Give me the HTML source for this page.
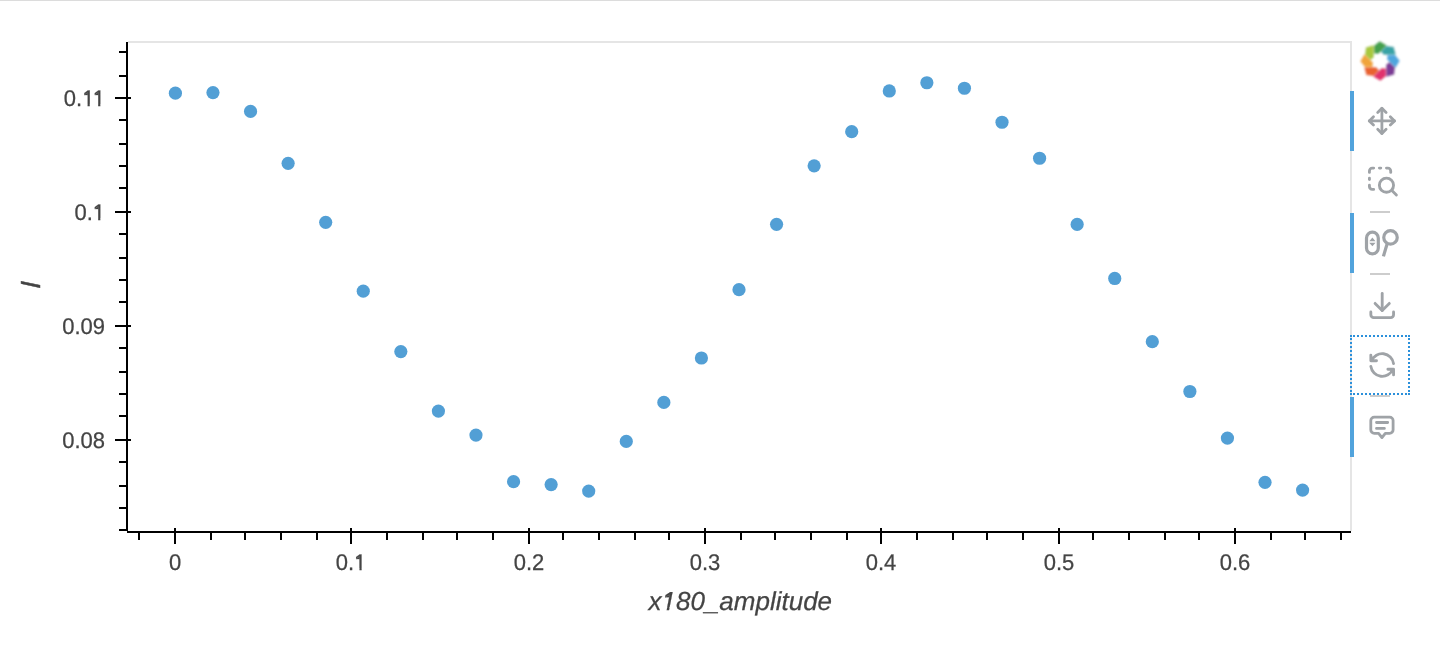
<!DOCTYPE html><html><head><meta charset="utf-8"><style>html,body{margin:0;padding:0;background:#fff;width:1440px;height:646px;overflow:hidden}svg{display:block}text{font-family:"Liberation Sans",sans-serif;text-rendering:geometricPrecision}</style></head><body>
<svg width="1440" height="646" viewBox="0 0 1440 646">
<defs><filter id="bl" x="-20%" y="-20%" width="140%" height="140%"><feGaussianBlur stdDeviation="0.8"/></filter></defs>
<rect x="0" y="0" width="1440" height="1" fill="#dcdcdc"/>
<rect x="128" y="41" width="1224" height="2" fill="#e5e5e5"/>
<rect x="1350" y="41" width="2" height="490" fill="#e5e5e5"/>
<rect x="126" y="42" width="2" height="489" fill="#000"/>
<rect x="127" y="531" width="1224" height="2" fill="#000"/>
<rect x="119" y="51" width="9" height="2" fill="#000"/>
<rect x="119" y="75" width="9" height="2" fill="#000"/>
<rect x="115" y="97" width="16" height="2" fill="#000"/>
<rect x="119" y="119" width="9" height="2" fill="#000"/>
<rect x="119" y="143" width="9" height="2" fill="#000"/>
<rect x="119" y="165" width="9" height="2" fill="#000"/>
<rect x="119" y="187" width="9" height="2" fill="#000"/>
<rect x="115" y="211" width="16" height="2" fill="#000"/>
<rect x="119" y="233" width="9" height="2" fill="#000"/>
<rect x="119" y="257" width="9" height="2" fill="#000"/>
<rect x="119" y="279" width="9" height="2" fill="#000"/>
<rect x="119" y="301" width="9" height="2" fill="#000"/>
<rect x="115" y="325" width="16" height="2" fill="#000"/>
<rect x="119" y="347" width="9" height="2" fill="#000"/>
<rect x="119" y="371" width="9" height="2" fill="#000"/>
<rect x="119" y="393" width="9" height="2" fill="#000"/>
<rect x="119" y="415" width="9" height="2" fill="#000"/>
<rect x="115" y="439" width="16" height="2" fill="#000"/>
<rect x="119" y="461" width="9" height="2" fill="#000"/>
<rect x="119" y="485" width="9" height="2" fill="#000"/>
<rect x="119" y="507" width="9" height="2" fill="#000"/>
<rect x="119" y="529" width="9" height="2" fill="#000"/>
<g style="opacity:0.999">
<rect x="138" y="531" width="2" height="9" fill="#000"/>
<rect x="174" y="528" width="2" height="16" fill="#000"/>
<rect x="210" y="531" width="2" height="9" fill="#000"/>
<rect x="244" y="531" width="2" height="9" fill="#000"/>
<rect x="280" y="531" width="2" height="9" fill="#000"/>
<rect x="316" y="531" width="2" height="9" fill="#000"/>
<rect x="350" y="528" width="2" height="16" fill="#000"/>
<rect x="386" y="531" width="2" height="9" fill="#000"/>
<rect x="422" y="531" width="2" height="9" fill="#000"/>
<rect x="456" y="531" width="2" height="9" fill="#000"/>
<rect x="492" y="531" width="2" height="9" fill="#000"/>
<rect x="528" y="528" width="2" height="16" fill="#000"/>
<rect x="562" y="531" width="2" height="9" fill="#000"/>
<rect x="598" y="531" width="2" height="9" fill="#000"/>
<rect x="634" y="531" width="2" height="9" fill="#000"/>
<rect x="668" y="531" width="2" height="9" fill="#000"/>
<rect x="704" y="528" width="2" height="16" fill="#000"/>
<rect x="740" y="531" width="2" height="9" fill="#000"/>
<rect x="774" y="531" width="2" height="9" fill="#000"/>
<rect x="810" y="531" width="2" height="9" fill="#000"/>
<rect x="846" y="531" width="2" height="9" fill="#000"/>
<rect x="880" y="528" width="2" height="16" fill="#000"/>
<rect x="916" y="531" width="2" height="9" fill="#000"/>
<rect x="952" y="531" width="2" height="9" fill="#000"/>
<rect x="986" y="531" width="2" height="9" fill="#000"/>
<rect x="1022" y="531" width="2" height="9" fill="#000"/>
<rect x="1058" y="528" width="2" height="16" fill="#000"/>
<rect x="1092" y="531" width="2" height="9" fill="#000"/>
<rect x="1128" y="531" width="2" height="9" fill="#000"/>
<rect x="1164" y="531" width="2" height="9" fill="#000"/>
<rect x="1198" y="531" width="2" height="9" fill="#000"/>
<rect x="1234" y="528" width="2" height="16" fill="#000"/>
<rect x="1270" y="531" width="2" height="9" fill="#000"/>
<rect x="1304" y="531" width="2" height="9" fill="#000"/>
<rect x="1340" y="531" width="2" height="9" fill="#000"/>
<defs><clipPath id="ft" clipPathUnits="userSpaceOnUse"><path clip-rule="evenodd" d="M0 0H1440V646H0ZM82.63 104.00H87.56V107.15H82.63ZM89.76 104.00H98.15V107.15H89.76ZM100.36 104.00H105.11V107.15H100.36ZM93.23 218.00H98.15V221.15H93.23ZM100.36 218.00H105.11V221.15H100.36ZM354.52 568.00H359.45V571.20H354.52ZM361.65 568.00H366.41V571.20H361.65ZM661.42 607.00L667.20 607.00L666.44 610.90L661.42 610.90ZM669.75 607.00L674.54 607.00L674.54 610.90L668.99 610.90Z"/></clipPath></defs>
<g clip-path="url(#ft)"><text transform="translate(105,106.25) scale(1,1.03)" text-anchor="end" font-size="22" fill="#444" stroke="#444" stroke-width="0.25">0.11</text><text transform="translate(105,220.25) scale(1,1.03)" text-anchor="end" font-size="22" fill="#444" stroke="#444" stroke-width="0.25">0.1</text><text transform="translate(105,334.25) scale(1,1.03)" text-anchor="end" font-size="22" fill="#444" stroke="#444" stroke-width="0.25">0.09</text><text transform="translate(105,448.25) scale(1,1.03)" text-anchor="end" font-size="22" fill="#444" stroke="#444" stroke-width="0.25">0.08</text><text transform="translate(175,570.3) scale(1,1.03)" text-anchor="middle" font-size="22" fill="#444" stroke="#444" stroke-width="0.25">0</text><text transform="translate(351,570.3) scale(1,1.03)" text-anchor="middle" font-size="22" fill="#444" stroke="#444" stroke-width="0.25">0.1</text><text transform="translate(529,570.3) scale(1,1.03)" text-anchor="middle" font-size="22" fill="#444" stroke="#444" stroke-width="0.25">0.2</text><text transform="translate(705,570.3) scale(1,1.03)" text-anchor="middle" font-size="22" fill="#444" stroke="#444" stroke-width="0.25">0.3</text><text transform="translate(881,570.3) scale(1,1.03)" text-anchor="middle" font-size="22" fill="#444" stroke="#444" stroke-width="0.25">0.4</text><text transform="translate(1059,570.3) scale(1,1.03)" text-anchor="middle" font-size="22" fill="#444" stroke="#444" stroke-width="0.25">0.5</text><text transform="translate(1235,570.3) scale(1,1.03)" text-anchor="middle" font-size="22" fill="#444" stroke="#444" stroke-width="0.25">0.6</text><text x="740.3" y="610" font-size="26" font-style="italic" text-anchor="middle" fill="#444" stroke="#444" stroke-width="0.25">x180_amplitude</text></g>
<path d="M84.27 95.07L87.74 95.07L87.74 92.56ZM94.87 95.07L98.33 95.07L98.33 92.56ZM94.87 209.07L98.33 209.07L98.33 206.56ZM356.16 559.12L359.63 559.12L359.63 556.61ZM665.18 597.30L669.28 597.30L669.83 594.47Z" fill="#444" stroke="#444" stroke-width="0.25" stroke-linejoin="round"/>
</g>
<g style="opacity:0.999"><text transform="translate(40.2,288.8) rotate(-90) skewX(-1.66) scale(1,1.06)" font-size="26" font-style="italic" fill="#444" stroke="#444" stroke-width="0.45">I</text></g>
<circle cx="175.40" cy="93.20" r="6.6" fill="#529fd5"/>
<circle cx="212.97" cy="92.60" r="6.6" fill="#529fd5"/>
<circle cx="250.55" cy="111.40" r="6.6" fill="#529fd5"/>
<circle cx="288.12" cy="163.35" r="6.6" fill="#529fd5"/>
<circle cx="325.69" cy="222.30" r="6.6" fill="#529fd5"/>
<circle cx="363.26" cy="291.20" r="6.6" fill="#529fd5"/>
<circle cx="400.84" cy="351.60" r="6.6" fill="#529fd5"/>
<circle cx="438.41" cy="411.10" r="6.6" fill="#529fd5"/>
<circle cx="475.98" cy="435.10" r="6.6" fill="#529fd5"/>
<circle cx="513.56" cy="481.70" r="6.6" fill="#529fd5"/>
<circle cx="551.13" cy="484.60" r="6.6" fill="#529fd5"/>
<circle cx="588.70" cy="491.10" r="6.6" fill="#529fd5"/>
<circle cx="626.28" cy="441.45" r="6.6" fill="#529fd5"/>
<circle cx="663.85" cy="402.40" r="6.6" fill="#529fd5"/>
<circle cx="701.42" cy="358.00" r="6.6" fill="#529fd5"/>
<circle cx="739.00" cy="289.70" r="6.6" fill="#529fd5"/>
<circle cx="776.57" cy="224.30" r="6.6" fill="#529fd5"/>
<circle cx="814.14" cy="165.80" r="6.6" fill="#529fd5"/>
<circle cx="851.71" cy="131.70" r="6.6" fill="#529fd5"/>
<circle cx="889.29" cy="90.97" r="6.6" fill="#529fd5"/>
<circle cx="926.86" cy="82.75" r="6.6" fill="#529fd5"/>
<circle cx="964.43" cy="88.25" r="6.6" fill="#529fd5"/>
<circle cx="1002.01" cy="122.27" r="6.6" fill="#529fd5"/>
<circle cx="1039.58" cy="158.24" r="6.6" fill="#529fd5"/>
<circle cx="1077.15" cy="224.40" r="6.6" fill="#529fd5"/>
<circle cx="1114.73" cy="278.46" r="6.6" fill="#529fd5"/>
<circle cx="1152.30" cy="341.69" r="6.6" fill="#529fd5"/>
<circle cx="1189.87" cy="391.50" r="6.6" fill="#529fd5"/>
<circle cx="1227.44" cy="438.10" r="6.6" fill="#529fd5"/>
<circle cx="1265.02" cy="482.30" r="6.6" fill="#529fd5"/>
<circle cx="1302.59" cy="490.10" r="6.6" fill="#529fd5"/>
<defs><clipPath id="lc"><rect x="1370" y="40" width="10" height="16"/></clipPath></defs>
<g filter="url(#bl)">
<polygon points="1365.72,47.14 1373.78,45.02 1374.06,57.18 1369.89,60.79 1364.59,56.33" fill="#a8c83c" stroke="#fff" stroke-opacity="0.55" stroke-width="0.8" stroke-linejoin="round"/>
<polygon points="1360.10,61.30 1364.30,54.10 1373.10,62.50 1372.70,68.00 1365.80,68.60" fill="#f0a43b" stroke="#fff" stroke-opacity="0.55" stroke-width="0.8" stroke-linejoin="round"/>
<polygon points="1366.14,75.28 1364.02,67.22 1376.18,66.94 1379.79,71.11 1375.33,76.41" fill="#e9622d" stroke="#fff" stroke-opacity="0.55" stroke-width="0.8" stroke-linejoin="round"/>
<polygon points="1380.30,80.90 1373.10,76.70 1381.50,67.90 1387.00,68.30 1387.60,75.20" fill="#e1326d" stroke="#fff" stroke-opacity="0.55" stroke-width="0.8" stroke-linejoin="round"/>
<polygon points="1394.28,74.86 1386.22,76.98 1385.94,64.82 1390.11,61.21 1395.41,65.67" fill="#7c3a95" stroke="#fff" stroke-opacity="0.55" stroke-width="0.8" stroke-linejoin="round"/>
<polygon points="1399.90,60.70 1395.70,67.90 1386.90,59.50 1387.30,54.00 1394.20,53.40" fill="#4fa6de" stroke="#fff" stroke-opacity="0.55" stroke-width="0.8" stroke-linejoin="round"/>
<polygon points="1393.86,46.72 1395.98,54.78 1383.82,55.06 1380.21,50.89 1384.67,45.59" fill="#39a3a6" stroke="#fff" stroke-opacity="0.55" stroke-width="0.8" stroke-linejoin="round"/>
<polygon points="1379.70,41.10 1386.90,45.30 1378.50,54.10 1373.00,53.70 1372.40,46.80" fill="#45a04d" stroke="#fff" stroke-opacity="0.55" stroke-width="0.8" stroke-linejoin="round"/>
<polygon points="1365.72,47.14 1373.78,45.02 1374.06,57.18 1369.89,60.79 1364.59,56.33" fill="#a8c83c" stroke="#fff" stroke-opacity="0.55" stroke-width="0.8" stroke-linejoin="round" clip-path="url(#lc)"/>
</g>
<rect x="1350" y="91" width="4" height="60" fill="#51a3dc"/>
<rect x="1350" y="213" width="4" height="60" fill="#51a3dc"/>
<rect x="1350" y="397" width="4" height="60" fill="#51a3dc"/>
<rect x="1370" y="211" width="20" height="2" fill="#cdcdcd"/>
<rect x="1370" y="273" width="20" height="2" fill="#cdcdcd"/>
<rect x="1370" y="395" width="20" height="2" fill="#cdcdcd"/>
<g fill="#2b90db"><rect x="1350" y="335" width="2" height="2"/><rect x="1350" y="393" width="2" height="2"/><rect x="1353" y="335" width="2" height="2"/><rect x="1353" y="393" width="2" height="2"/><rect x="1357" y="335" width="2" height="2"/><rect x="1357" y="393" width="2" height="2"/><rect x="1361" y="335" width="2" height="2"/><rect x="1361" y="393" width="2" height="2"/><rect x="1365" y="335" width="2" height="2"/><rect x="1365" y="393" width="2" height="2"/><rect x="1369" y="335" width="2" height="2"/><rect x="1369" y="393" width="2" height="2"/><rect x="1373" y="335" width="2" height="2"/><rect x="1373" y="393" width="2" height="2"/><rect x="1377" y="335" width="2" height="2"/><rect x="1377" y="393" width="2" height="2"/><rect x="1381" y="335" width="2" height="2"/><rect x="1381" y="393" width="2" height="2"/><rect x="1385" y="335" width="2" height="2"/><rect x="1385" y="393" width="2" height="2"/><rect x="1389" y="335" width="2" height="2"/><rect x="1389" y="393" width="2" height="2"/><rect x="1393" y="335" width="2" height="2"/><rect x="1393" y="393" width="2" height="2"/><rect x="1397" y="335" width="2" height="2"/><rect x="1397" y="393" width="2" height="2"/><rect x="1401" y="335" width="2" height="2"/><rect x="1401" y="393" width="2" height="2"/><rect x="1405" y="335" width="2" height="2"/><rect x="1405" y="393" width="2" height="2"/><rect x="1408" y="335" width="2" height="2"/><rect x="1408" y="393" width="2" height="2"/><rect x="1350" y="338" width="2" height="2"/><rect x="1408" y="338" width="2" height="2"/><rect x="1350" y="342" width="2" height="2"/><rect x="1408" y="342" width="2" height="2"/><rect x="1350" y="346" width="2" height="2"/><rect x="1408" y="346" width="2" height="2"/><rect x="1350" y="350" width="2" height="2"/><rect x="1408" y="350" width="2" height="2"/><rect x="1350" y="354" width="2" height="2"/><rect x="1408" y="354" width="2" height="2"/><rect x="1350" y="358" width="2" height="2"/><rect x="1408" y="358" width="2" height="2"/><rect x="1350" y="362" width="2" height="2"/><rect x="1408" y="362" width="2" height="2"/><rect x="1350" y="366" width="2" height="2"/><rect x="1408" y="366" width="2" height="2"/><rect x="1350" y="370" width="2" height="2"/><rect x="1408" y="370" width="2" height="2"/><rect x="1350" y="374" width="2" height="2"/><rect x="1408" y="374" width="2" height="2"/><rect x="1350" y="378" width="2" height="2"/><rect x="1408" y="378" width="2" height="2"/><rect x="1350" y="382" width="2" height="2"/><rect x="1408" y="382" width="2" height="2"/><rect x="1350" y="386" width="2" height="2"/><rect x="1408" y="386" width="2" height="2"/><rect x="1350" y="390" width="2" height="2"/><rect x="1408" y="390" width="2" height="2"/></g>
<g transform="translate(1365.10,104.10) scale(1.4)" fill="none" stroke="#9fa3a7" stroke-width="2" stroke-linecap="round" stroke-linejoin="round"><path d="M3 12h18"/><path d="M12 3v18"/><path d="M18 9l3 3l-3 3"/><path d="M6 9l-3 3l3 3"/><path d="M9 18l3 3l3 -3"/><path d="M15 6l-3 -3l-3 3"/></g>
<g transform="translate(1365.16,163.86) scale(1.42)" fill="none" stroke="#9fa3a7" stroke-width="2" stroke-linecap="round" stroke-linejoin="round"><path d="M15 15m-5 0a5 5 0 1 0 10 0a5 5 0 1 0 -10 0"/><path d="M22 22l-3 -3"/><path d="M6 18h-1a2 2 0 0 1 -2 -2v-1"/><path d="M3 11v-1"/><path d="M3 6v-1a2 2 0 0 1 2 -2h1"/><path d="M10 3h1"/><path d="M15 3h1a2 2 0 0 1 2 2v1"/></g>
<g fill="none" stroke="#9fa3a7" stroke-width="3.2"><rect x="1366.5" y="232.1" width="11.8" height="21.7" rx="5.9"/><circle cx="1390.5" cy="237.45" r="6.75"/><path d="M1387.3 243.2 L1383.4 256.4"/></g>
<path d="M1369.3 241.2 L1372.4 237.6 L1375.5 241.2 Z M1369.2 242.8 L1375.6 242.8 L1372.4 246.3 Z" fill="#9fa3a7"/>
<g transform="translate(1365.16,287.76) scale(1.42)" fill="none" stroke="#9fa3a7" stroke-width="2" stroke-linecap="round" stroke-linejoin="round"><path d="M4 17v2a2 2 0 0 0 2 2h12a2 2 0 0 0 2 -2v-2"/><path d="M7 11l5 5l5 -5"/><path d="M12 4l0 12"/></g>
<g transform="translate(1365.16,347.96) scale(1.42)" fill="none" stroke="#9fa3a7" stroke-width="2" stroke-linecap="round" stroke-linejoin="round"><path d="M20 11a8.1 8.1 0 0 0 -15.5 -2m-.5 -4v4h4"/><path d="M4 13a8.1 8.1 0 0 0 15.5 2m.5 4v-4h-4"/></g>
<g fill="none" stroke="#9fa3a7" stroke-width="2.8" stroke-linecap="round" stroke-linejoin="round"><path d="M1378.6 433.3 H1374.3 a3.5 3.5 0 0 1 -3.5 -3.5 V420.6 a3.5 3.5 0 0 1 3.5 -3.5 H1389.6 a3.5 3.5 0 0 1 3.5 3.5 V429.8 a3.5 3.5 0 0 1 -3.5 3.5 H1385.3 L1381.95 437.6 Z"/><path d="M1376.5 422.5 H1387.7 M1376.5 428.4 H1384.4"/></g>
</svg></body></html>
